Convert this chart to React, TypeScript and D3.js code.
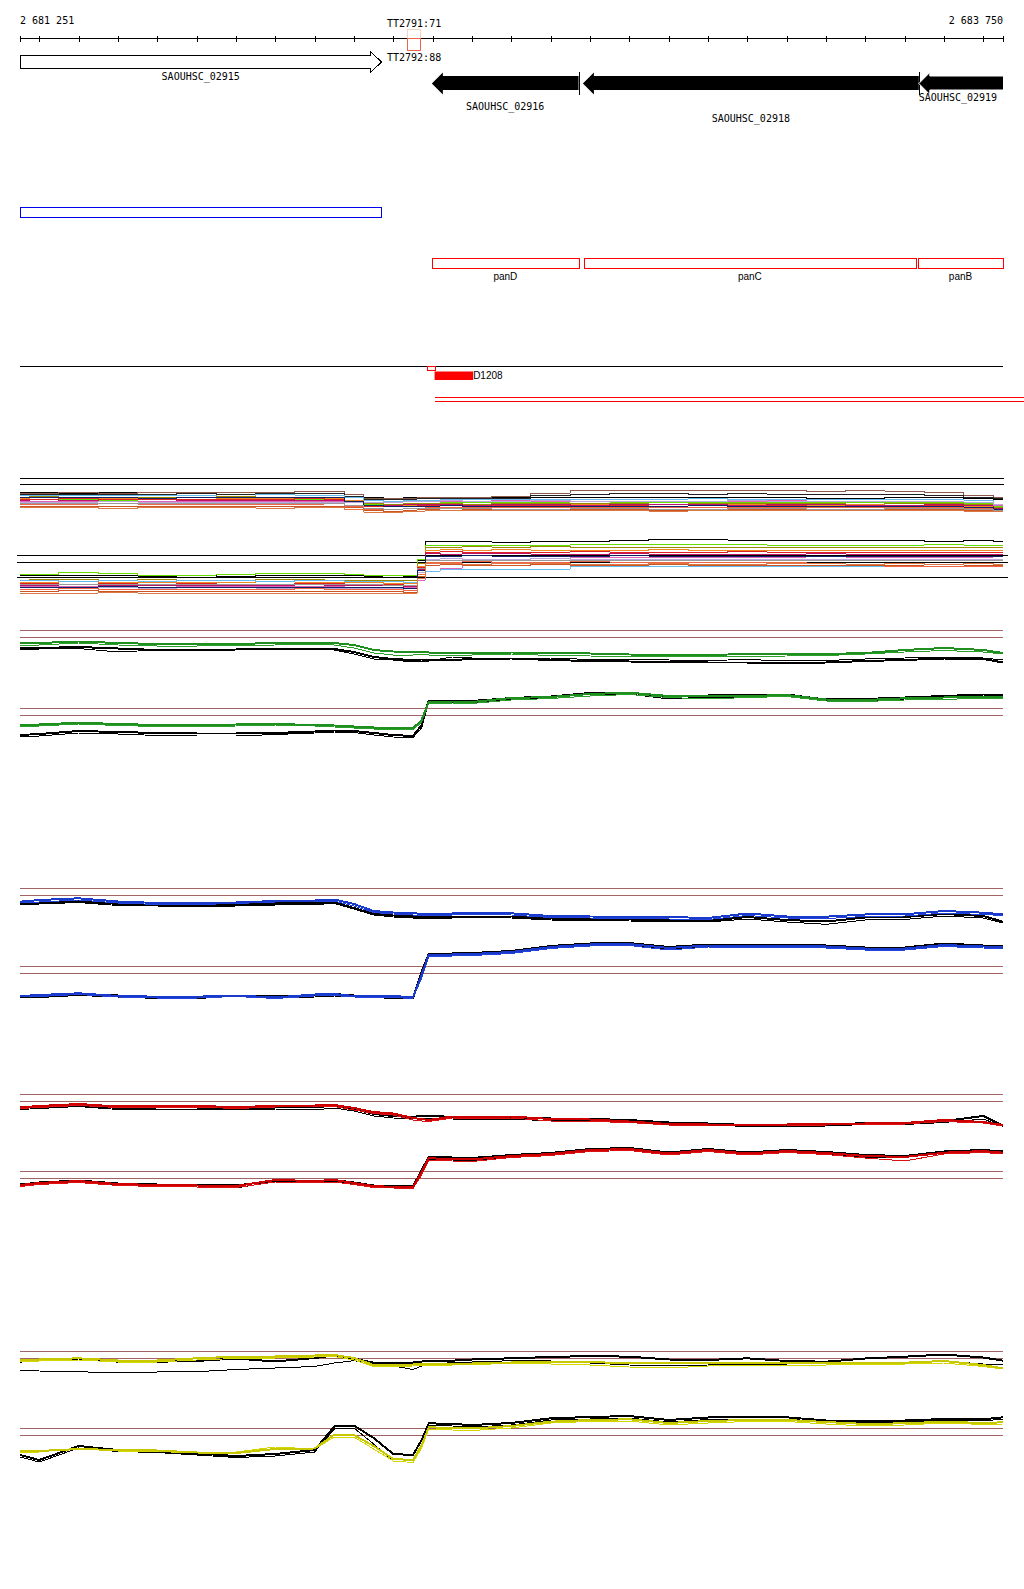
import React from 'react';
import * as d3 from 'd3';

// ---------- genome view ----------
const VIEW = [2681251, 2683750];
const VIEW_LABELS = ['2 681 251', '2 683 750'];
const TICKS = d3.range(2681300, 2683701, 100);

// sampling positions (bp) of all expression traces
const POS = [
  2681251, 2681300, 2681400, 2681500, 2681600, 2681700, 2681800, 2681900,
  2682000, 2682050, 2682100, 2682150, 2682200, 2682250, 2682272, 2682290,
  2682350, 2682400, 2682500, 2682600, 2682700, 2682800, 2682900, 2683000,
  2683100, 2683200, 2683300, 2683400, 2683500, 2683600, 2683700, 2683750,
];

// ---------- annotation ----------
const GENE_NAMES = ['SAOUHSC_02915', 'SAOUHSC_02916', 'SAOUHSC_02918', 'SAOUHSC_02919'];
const GENE_START = [2681251, 2682298, 2682682, 2683536];
const GENE_END = [2682170, 2682671, 2683536, 2683900];
const GENE_STRAND = ['+', '-', '-', '-'];

const OPERON_NAMES = ['panD', 'panC', 'panB'];
const OPERON_START = [2682298, 2682684, 2683534];
const OPERON_END = [2682672, 2683529, 2683900];

const BLUE_FEATURE = [2681251, 2682170];
const TERM_LABELS = ['TT2791:71', 'TT2792:88'];
const TERM_RANGE = [2682235, 2682269];
const PEAK_LABEL = 'D1208';
const PEAK_RANGE = [2682305, 2682403];
const PEAK_MARK = [2682286, 2682305];
const TRANSCRIPT_RANGE = [2682305, 2684400];

// ---------- panel 1 : many conditions ----------
const P1_UPPER_COLORS = ['#000000', '#8b5a4a', '#222222', '#66bbee', '#66dd00', '#998800', '#ee8822', '#dd2222',
  '#bb1166', '#dd66bb', '#bba6dd', '#ee6644', '#cc5522', '#112266', '#999999', '#dd7744'];
const P1_UPPER_VALUES = [
  [27.5,27.5,27,27.5,28,28,27.5,28, 28.5,28.5,26,23,22,22.5,22.5,22.5, 22.5,22.5,22.5,22.5,22.5,22.5,22.5,22.5, 22.5,22.5,22,22,22.5,22.5,21.5,20.5],
  [27,27,27.5,27,27.5,28,28,28, 28.5,28.5,25.5,22,22,22,22.5,22.5, 23,23,23.5,27,29.5,29.5,30,29.5, 30,29.5,29,29.5,29,28,25,23],
  [26,26,26,26,26,26.5,26,26.5, 27,26.5,24,21,20.5,21,21.5,21.5, 22,22,22,24.5,26,26.5,27,26, 26.5,26,25.5,26,26,25,23,21.5],
  [25,24.5,25,25,24.5,25,24,25.5, 25,25,23,20,19,19.5,20,20, 20.5,21,21,20.5,21,21,21,21.5, 20.5,21,21,21,20.5,21,20,16],
  [20,20.5,20.5,20,20.5,21,20.5,20, 21,21,19,16,15.5,16,16.5,17, 17.5,17.5,18,18,18.5,18,17.5,18, 18,17.5,18,17.5,18,18,17,14],
  [23,23.5,23,23,22.5,23,23.5,23, 22.5,23,20,17,16,16.5,16.5,17, 16.5,16,16.5,17,17,16.5,16,16.5, 17,16.5,16.5,16,16.5,17,16,13],
  [22,22.5,22,21.5,22,22.5,22,21.5, 22,22,19.5,15,14.5,15,15.5,16, 15.5,15,15.5,15,15.5,16,15.5,15, 15.5,15,15,15.5,15,15.5,14,10],
  [21,21,21.5,21,20.5,21,21,21, 21.5,21,18,14,13.5,14,14.5,15, 15,15,14.5,15,15,14.5,14,14.5, 15,14.5,14,14.5,14,15,13,10.5],
  [19.5,19,19.5,19,19,19.5,20,19.5, 19.5,19.5,17.5,15,15,15.5,15.5,15.5, 15.5,15,15.5,15.5,15,15.5,16,15.5, 15,15.5,15.5,15,15,15.5,14.5,12],
  [19,19,18.5,19,19,18.5,19,19, 18.5,19,17.5,18,18,18.5,18.5,19, 19,19,19.5,19,19,18.5,19,19, 19,19.5,19,19,19,19,18,15],
  [18,18,18,18.5,18,18,17.5,18, 18,18,17.5,17.5,18,18.5,18.5,19, 19.5,19,19,19.5,19,19,18.5,19, 19.5,19,19,18.5,19,19,18,15.5],
  [16,16,16,16.5,16,16,16,16, 16,16.5,14,11,11,11.5,12,12.5, 13,12.5,13,13,12.5,12.5,13,13, 13,12.5,13,13,13,12.5,11.5,9],
  [14,14,14,13.5,14,14,14,13.5, 14,14,13,10,9,10,10.5,11, 11.5,11,11,11,10.5,10.5,10,10.5, 11,10.5,10.5,11,11,10.5,9.5,8.5],
  [22.5,22.5,23,22.5,22,22.5,22.5,22.5, 22.5,22.5,19,14.5,14,14,14,14, 14.5,14,14,14,13.5,14,14,14.5, 13.5,14,14,14,14,14,13,11],
  [17,17,17,16.5,17,17,16.5,17, 17,17,15,12,11,11.5,11.5,12, 11.5,11.5,11,11,11.5,11.5,11,11, 11.5,11.5,11,11,11.5,11.5,11,9.5],
  [12.5,12.5,12.5,12,12.5,12.5,12.5,12, 12.5,12.5,11,8,8,8.5,9,9.5, 9.5,10,9.5,9.5,10,9.5,9,9.5, 9.5,10,9.5,9.5,10,9.5,9,8.5],
];
const P1_UPPER_REFS = [41.7, 35.7];

const P1_LOWER_COLORS = ['#000000', '#66dd00', '#998800', '#ee8822', '#dd2222', '#bb1166', '#dd66bb', '#bba6dd',
  '#66bbee', '#ee6644', '#cc5522', '#999999', '#112266', '#dd7744'];
const P1_LOWER_VALUES = [
  [24.5,24.5,25,24.5,24,24.5,24,25, 24.5,24.5,24.5,24,24.5,24,40,58.5, 58.5,58.5,58,58.5,59,59.5,61,61, 60,59.5,59.5,59.5,59.5,59,59.5,59],
  [25.5,26,27.5,27,25,25,26,27, 27,26.5,25.5,25,25,24.5,41,54.5, 55,55,54.5,55,55.5,55.5,56,56, 55.5,55,55,55,55,55.5,55,55],
  [20,20.5,20.5,20,20.5,19.5,20,20.5, 21,20,20,20,19.5,19.5,37,52.5, 53,53.5,53,53.5,53,52.5,53,53, 52.5,53,52.5,52.5,53,53,52.5,52.5],
  [18,18,18.5,18,17.5,18,18,18.5, 18,18,17.5,17.5,17,17,34,50, 50.5,50,50.5,50,49.5,50,50.5,50, 50,49.5,50,50,49.5,50,50,49.5],
  [16.5,16.5,16,16.5,16,16.5,16,16, 16.5,16.5,16,16,15.5,15,33,48, 48.5,48,47.5,48,48.5,48,47.5,48, 48.5,48,48,47.5,48,48,47.5,48],
  [15,15,15.5,15,15,14.5,15,15, 15.5,15,15,14.5,14.5,14,31,46.5, 46,46.5,46.5,46,46,46.5,46,45.5, 46,46,46.5,46,46,45.5,46,46],
  [13.5,13.5,14,13.5,13,13.5,13.5,14, 13.5,13.5,13,13,13,12.5,20,29, 32,35,40,42,42.5,43,43,42.5, 43,43,43.5,43,42.5,43,43,43.5],
  [12.5,12.5,12,12.5,12,12.5,12.5,12, 12.5,12,12,12,11.5,11.5,28,41, 41.5,41,41,41.5,41,40.5,41,41, 41,40.5,41,41,40.5,41,41,40.5],
  [19.5,19.5,19,19.5,19,19.5,19.5,19, 19.5,19.5,19,19,18.5,18,24,29, 30.5,31,31,31,33.3,33.3,33.3,33.3, 33.3,33.3,33.3,33.3,33.3,33.3,33.3,33.3],
  [11,11,11.5,11,11,10.5,11,11, 11.5,11,11,10.5,10.5,10,26,38, 38,38.5,38,38,38.5,38,38,37.5, 38,38,37,36,33.5,33.5,33.5,33.5],
  [9,9,9.5,9,8.5,9,9,9, 8.5,9,9,8.5,8.5,8,24,35, 35.5,35,35,35.5,35,35,35.5,35, 35,34.5,35,35,35,35.5,35,35],
  [16,16,15.5,16,16,16,15.5,16, 16,16,15.5,15.5,15,15,32,39.5, 40,39.5,39.5,40,39.5,39.5,40,39.5, 39.5,40,39.5,39.5,39.5,40,39.5,39.5],
  [13,13,13,13.5,13,13,13,12.5, 13,13,12.5,12.5,12.5,12,30,44, 44,44.5,44,44,44,44.5,44,44, 43.5,44,44,44,44,44,44,44],
  [7,7,7,7.5,7,7,6.5,7, 7,7,7,6.5,6.5,7,22,36.5, 36.5,36,36.5,36.5,36,36,36.5,36, 36,36.5,36.5,36,36.5,36,36.5,36],
];
const P1_LOWER_REFS = [45, 37.7, 22.7];

// ---------- panels 2-5 : [colour A, colour B, black A, black B] ----------
const P2_TOP_VALUES = [
  [26.5,27,28.5,27,26,25.5,26,27, 27,27,25,20,18.5,18,18,17.5, 17,16.5,17.5,17,16.5,15.5,15,15, 16,15.5,16,17,20,22,20,17],
  [25,25,27,25,24,24,24.5,25, 25.5,25,22,17,15,15,15.5,15, 14,15,16,14.5,14,13.5,13,13.5, 13.5,14,14.5,16,18,19.5,18,16],
  [21.5,22,23,21.5,20,20,20.5,21.5, 21.5,21,18,13,11,10,10.5,10, 10,11,11.5,10,9,8.5,8,7.5, 7.5,7,7.5,9,10,11.5,11,7.5],
  [20.5,21,21.5,18,20,19.5,20,21, 20.5,20,16,11,10,8,9,9, 13,12,11,12,10.5,10.5,10,9.5, 10.5,9,9.5,11,12,12.5,12,10],
];
const P2_TOP_REFS = [39.7, 32.7];
const P2_BOT_VALUES = [
  [19.7,20.5,22.3,21,20,19.5,20.5,21, 20,19.5,18.5,17.5,17,16.7,25,43, 43.5,43,47,48,51,52.3,49,48.5, 49,50,45.5,45,46.7,47.5,48.3,48.3],
  [18.5,19,21,19.5,18.5,18,19,20, 19,18,17,16,15.5,15,23,41.5, 42,41.5,45,46.5,49,50.5,47.5,46, 47.5,48.5,44,43.5,45,45.5,47,47],
  [10,11,14,13,12,11.5,11.5,12, 13.5,14.5,14,12,10,9,20,44.5, 44,44,47,48.5,52,52.5,48,49.5, 50,50.5,45.5,46,47.5,49,50.5,50],
  [8,9,12,11,9.5,9,9,10.5, 12,13,12.5,10,8,7.5,17,43, 42.5,42,45.5,47.5,50.5,51,46,48, 48,48.5,44,44.5,46,47,49,48.5],
];
const P2_BOT_REFS = [36.7, 29.7];

const P3_TOP_VALUES = [
  [28.3,30,31.7,28.5,27,27,27.5,29, 29.5,30.5,26,19,17.5,17,16,15.7, 16.5,16.7,16.7,14,13.5,13.3,13,12, 16.5,13.5,13.3,15.5,15.7,19,17.3,15.7],
  [27,28,30,27,25.5,25.5,26.5,28, 28.5,29,24,17.5,16,15,14.5,14, 15,15.5,15,12.5,12,11.5,11,10.5, 14.5,12,11.5,13.5,14,17,15.5,14.5],
  [26.5,27,29,26,25,24.5,25,26.5, 27,27.5,22,16,14.5,13.5,13,12.5, 13,13.5,13.5,11.5,11,10.5,10,9, 13,10,8.5,12.5,13,16,14,8.3],
  [25.5,26,27.5,24.5,24,23.5,24,25, 25.5,26.5,21,15,13,12,11.5,11, 12,12.5,12,10,9.5,9,8.5,8, 11,8,5.7,10,10.5,14,12,7],
];
const P3_TOP_REFS = [41.7, 34.7];
const P3_BOT_VALUES = [
  [9,10,11.7,9,8.3,8.3,9.5,7.5, 10.5,11,9,8.5,9,7.7,30,50, 50.5,51,53,58,60.5,61,57,59.5, 59,59,58.5,56.5,56.5,60,58.5,58],
  [8,8.5,10.5,8,7,7,8.5,6.5, 9,9.5,8,7.5,7.5,6.5,27,48.5, 49,49.5,51.5,56.5,59,59.5,55,58, 57.5,57.5,57,55,55,58.5,57,56.5],
  [8.5,9,11,9.5,8,7.5,9,8.5, 10,11,9.5,9,8,7,33,51, 51.5,52,54,59,61.5,62,58,60.5, 60.5,60,59.5,57.5,57.5,61.5,59.5,59],
  [7,7.5,9.5,8,6.5,6,10,7, 8,9,8,7.5,6.5,6,29,49.5, 50,50.5,52.5,57.5,60,60.5,56,59, 59,58.5,58,56,56,60,58,57.5],
];
const P3_BOT_REFS = [39.3, 32.3];

const P4_TOP_VALUES = [
  [27.7,29,31,28.5,29,29,28,29, 29.5,30,27,23,21.5,17,16,15, 18.5,18,18.5,16,15.5,13.5,11,10.5, 9.5,10.5,10.7,11.5,12,15,13,10],
  [26.5,27.5,29.5,27.5,27.5,28,26.5,28, 28.5,28.5,25,21.5,20,15,14,13.5, 17,16.5,17,14,13.5,12.5,10,9.5, 9,10,10,10.5,11,13.5,12,9],
  [27,28,30,27,27.5,27.5,26.5,27.5, 28,29,26,21,19,18,19.5,19.5, 18,17,17.5,16.5,16,15,12.5,11.5, 10,9,10,12,11.5,14,19,9.5],
  [25.5,26.5,28.5,25.5,26,26,25,26, 25,27,24,19,17,16,17,17, 16,15,15.5,14.5,14,13.5,11,10, 8.5,8,9,10.5,10.5,12.5,16,8.5],
];
const P4_TOP_REFS = [40.7, 33.7];
const P4_BOT_VALUES = [
  [10,12,14,11,10,9.5,9,15, 14,15,12,9,8,7.7,23,36.7, 36,35.5,39,41,45,46,41.5,45, 41.5,44,42,39,38,42.3,44,42.3],
  [8.5,10.5,12.5,9.5,8.5,8,7.5,13, 12,13,10.5,7.5,7,6.5,20,35, 34,33.5,37.5,39.5,43.5,44.5,40,43.5, 40,42.5,40.5,37,34,41,42.5,41],
  [10.5,12.5,14.5,11.5,10.5,10,9.5,14.5, 13.5,15,12.5,9.5,9,8.5,25,38, 37.5,37,40,42,46,47,42.5,46, 42.5,45,43,40,39,43.5,45,43.5],
  [9,11,12.5,10,9,8,7,13.5, 12,13.5,11,8,7,6.5,22,36, 35,34.5,38.5,40.5,44.5,45.5,41,44.5, 41,43.5,41.5,38,37.5,42,45.5,42],
];
const P4_BOT_REFS = [23.7, 16.7];

const P5_TOP_VALUES = [
  [25,25.5,26.7,24.5,24.5,26.7,28.3,28.5, 29.5,30,27,20,20,20.5,21,21, 21,21.5,22.5,22.7,23,21.7,21.5,21.7, 21.7,21.7,22,22.3,22.3,24,20,16.7],
  [23.5,24,25,23,23,25,26.5,27, 28,28.5,25,18.5,18.5,19,19.5,19.5, 20,20.5,21.5,21,20,18,17,19, 19.5,20,20,21,21,22,18.5,16],
  [23.3,25,26.5,23.3,23.3,24,26.5,23.5, 27,29.5,26.5,22.3,22.3,22.5,23.5,24, 24.3,25.5,26.7,28,29,28.3,25.5,25, 26.7,24,23.3,26.5,28.3,30.5,27.5,24.3],
  [15,14,13.3,12,13,13.3,15.5,17, 18.5,22,24.3,21.7,19,15.5,19,21, 22.3,23,24.3,24,22,20,19,20, 21,21,21.5,22.3,21.5,24,21,20],
];
const P5_TOP_REFS = [34, 26.7];
const P5_BOT_VALUES = [
  [19,19,21,20,19.5,17.5,17,21, 21.5,35.5,35,24,11,10,25,42.7, 42,41.5,44,48.3,50,50.7,47,49, 50,50,48,46,46.7,48.3,47,47.7],
  [17.5,18,22,19,18.5,17,18,23, 21,33,33,21,9,7.5,22,41, 40,39.5,42,47,48.5,49,45,47, 48.5,48.5,46,44,45,47,45.5,46],
  [15,10,24,20,19,16.5,14,16, 20,43.5,44.5,32,16,15,30,46.7, 46,45,47,51.7,53,54,50,52.5, 52.7,52.7,49.5,49.3,49.5,51,50.7,52.7],
  [13,8,22,18.5,17.5,15,12.5,14, 18,41,42,26,9,7.5,26,45, 44,43,45,50,51,52,48,50.5, 51,51,48,47.5,48,49.5,49,51],
];
const P5_BOT_REFS = [41.7, 34.7];

// ---------- layout ----------
const W = 1024;
const H = 1589;
const x = d3.scaleLinear().domain(VIEW).range([20, 1003]);
const MONO = "'DejaVu Sans Mono', monospace";
const SANS = "'Liberation Sans', Arial, sans-serif";
const REF_BROWN = '#a06464';

type GroupProps = {
  base: number;
  values: number[][];
  colors: string[];
  widths: number[];
  order: number[];
  refs: number[];
  refColor: string;
  refX: [number, number];
  curve: d3.CurveFactory;
};

function Group({ base, values, colors, widths, order, refs, refColor, refX, curve }: GroupProps) {
  const y = d3.scaleLinear().domain([0, 80]).range([base, base - 80]);
  const gen = d3
    .line<number>()
    .x((_, i) => x(POS[i]))
    .y((v) => y(v))
    .curve(curve);
  return (
    <g>
      {refs.map((r, i) => (
        <line key={'r' + i} x1={refX[0]} x2={refX[1]} y1={Math.round(y(r)) + 0.5} y2={Math.round(y(r)) + 0.5}
          stroke={refColor} strokeWidth={1} shapeRendering="crispEdges" />
      ))}
      {order.map((k) => (
        <path key={'s' + k} d={gen(values[k].slice(0, POS.length)) || ''} fill="none" stroke={colors[k]}
          strokeWidth={widths[k]} shapeRendering="crispEdges" strokeLinejoin="round" />
      ))}
    </g>
  );
}

function pairPanel(base: number, vals: number[][], refs: number[], color: string, colorB: string) {
  return (
    <Group base={base} values={vals} colors={[color, colorB, '#000000', '#000000']} widths={[2, 1, 2, 1]}
      order={[3, 2, 1, 0]} refs={refs} refColor={REF_BROWN} refX={[20, 1003]} curve={d3.curveLinear} />
  );
}

export default function App() {
  const rulerY = 38.5;
  const genes = GENE_NAMES.map((name, i) => ({ name, start: GENE_START[i], end: GENE_END[i], strand: GENE_STRAND[i] }));
  const labelBaselines = [80, 110, 121.7, 100.7];
  const head = 11;

  return (
    <svg width={W} height={H} viewBox={`0 0 ${W} ${H}`}
      style={{ position: 'absolute', left: 0, top: 0, display: 'block', background: '#fff' }}>
      <rect x={0} y={0} width={W} height={H} fill="#fff" />

      {/* ruler */}
      <line x1={x(VIEW[0])} x2={x(VIEW[1])} y1={rulerY} y2={rulerY} stroke="#000" shapeRendering="crispEdges" />
      {[VIEW[0], ...TICKS, VIEW[1]].map((t, i) => (
        <line key={'t' + i} x1={Math.round(x(t)) + 0.5} x2={Math.round(x(t)) + 0.5} y1={35.5} y2={41.5}
          stroke="#000" shapeRendering="crispEdges" />
      ))}
      <text x={20} y={24} fontFamily={MONO} fontSize={10} fill="#000">{VIEW_LABELS[0]}</text>
      <text x={1003} y={24} fontFamily={MONO} fontSize={10} fill="#000" textAnchor="end">{VIEW_LABELS[1]}</text>

      {/* terminators */}
      <rect x={x(TERM_RANGE[0])} y={29.5} width={x(TERM_RANGE[1]) - x(TERM_RANGE[0])} height={9}
        fill="none" stroke="#f3d3c3" shapeRendering="crispEdges" />
      <rect x={x(TERM_RANGE[0])} y={38.5} width={x(TERM_RANGE[1]) - x(TERM_RANGE[0])} height={12}
        fill="none" stroke="#f06448" shapeRendering="crispEdges" />
      <text x={387} y={27} fontFamily={MONO} fontSize={10} fill="#000">{TERM_LABELS[0]}</text>
      <text x={387} y={61} fontFamily={MONO} fontSize={10} fill="#000">{TERM_LABELS[1]}</text>

      {/* genes */}
      {genes.map((g, i) => {
        const x0 = x(g.start);
        const x1 = Math.min(x(g.end), 1003.5);
        if (g.strand === '+') {
          const d = `M${x0},55.5 H${x1 - head} V51.5 L${x1},62 L${x1 - head},72.5 V68.5 H${x0} Z`;
          return <path key={g.name} d={d} fill="#fff" stroke="#000" strokeWidth={1} shapeRendering="crispEdges" />;
        }
        const d = `M${x0},83.5 L${x0 + head},72.5 V76 H${x1} V90 H${x0 + head} V94.5 Z`;
        return (
          <g key={g.name}>
            <path d={d} fill="#000" stroke={i === 3 ? '#fff' : 'none'} strokeWidth={1} />
            {g.end < VIEW[1] && (
              <line x1={Math.round(x1) + 0.5} x2={Math.round(x1) + 0.5} y1={72} y2={94.5} stroke="#000" shapeRendering="crispEdges" />
            )}
          </g>
        );
      })}
      {genes.map((g, i) => {
        const x0 = x(g.start);
        const x1 = Math.min(x(g.end), 1003);
        const last = i === 3;
        return (
          <text key={'l' + g.name} x={last ? x0 : (x0 + x1) / 2} y={labelBaselines[i]} fontFamily={MONO} fontSize={10}
            textAnchor={last ? 'start' : 'middle'} fill="#000">{g.name}</text>
        );
      })}

      {/* blue feature */}
      <rect x={x(BLUE_FEATURE[0]) + 0.5} y={207.5} width={x(BLUE_FEATURE[1]) - x(BLUE_FEATURE[0])} height={10}
        fill="none" stroke="#0000ee" strokeWidth={1} shapeRendering="crispEdges" />

      {/* operon genes */}
      {OPERON_NAMES.map((n, i) => {
        const x0 = x(OPERON_START[i]);
        const x1 = Math.min(x(OPERON_END[i]), 1003);
        return (
          <g key={n}>
            <rect x={x0 + 0.5} y={258.5} width={x1 - x0} height={10} fill="none" stroke="#ff0000" shapeRendering="crispEdges" />
            <text x={(x0 + x1) / 2} y={280} fontFamily={SANS} fontSize={10} textAnchor="middle" fill="#000">{n}</text>
          </g>
        );
      })}

      {/* peaks / transcripts */}
      <line x1={20} x2={1003} y1={366.5} y2={366.5} stroke="#000" strokeWidth={1} shapeRendering="crispEdges" />
      <rect x={x(PEAK_MARK[0]) + 0.5} y={366.5} width={x(PEAK_MARK[1]) - x(PEAK_MARK[0])} height={3.5}
        fill="#fff" stroke="#ff0000" shapeRendering="crispEdges" />
      <rect x={x(PEAK_RANGE[0])} y={371.5} width={x(PEAK_RANGE[1]) - x(PEAK_RANGE[0])} height={8.5} fill="#ff0000" />
      <text x={x(PEAK_RANGE[1])} y={379} fontFamily={SANS} fontSize={10} fill="#000">{PEAK_LABEL}</text>
      <line x1={x(TRANSCRIPT_RANGE[0])} x2={x(TRANSCRIPT_RANGE[1])} y1={397.5} y2={397.5} stroke="#ff0000" shapeRendering="crispEdges" />
      <line x1={x(TRANSCRIPT_RANGE[0])} x2={x(TRANSCRIPT_RANGE[1])} y1={401.5} y2={401.5} stroke="#ff0000" shapeRendering="crispEdges" />

      {/* panel 1 */}
      <Group base={520} values={P1_UPPER_VALUES} colors={P1_UPPER_COLORS} widths={P1_UPPER_VALUES.map(() => 1)}
        order={P1_UPPER_VALUES.map((_, i) => i)} refs={P1_UPPER_REFS} refColor="#000" refX={[20, 1004]} curve={d3.curveStep} />
      <Group base={600} values={P1_LOWER_VALUES} colors={P1_LOWER_COLORS} widths={P1_LOWER_VALUES.map(() => 1)}
        order={P1_LOWER_VALUES.map((_, i) => i)} refs={P1_LOWER_REFS} refColor="#000" refX={[17, 1008]} curve={d3.curveStep} />

      {/* panels 2-5 */}
      {pairPanel(670, P2_TOP_VALUES, P2_TOP_REFS, '#1f8f1f', '#2aa02a')}
      {pairPanel(745, P2_BOT_VALUES, P2_BOT_REFS, '#1f8f1f', '#2aa02a')}
      {pairPanel(930, P3_TOP_VALUES, P3_TOP_REFS, '#1a3acc', '#2244dd')}
      {pairPanel(1005, P3_BOT_VALUES, P3_BOT_REFS, '#1a3acc', '#2244dd')}
      {pairPanel(1135, P4_TOP_VALUES, P4_TOP_REFS, '#cc0000', '#dd1111')}
      {pairPanel(1195, P4_BOT_VALUES, P4_BOT_REFS, '#cc0000', '#dd1111')}
      {pairPanel(1385, P5_TOP_VALUES, P5_TOP_REFS, '#c8c800', '#d6d600')}
      {pairPanel(1470, P5_BOT_VALUES, P5_BOT_REFS, '#c8c800', '#d6d600')}
    </svg>
  );
}
